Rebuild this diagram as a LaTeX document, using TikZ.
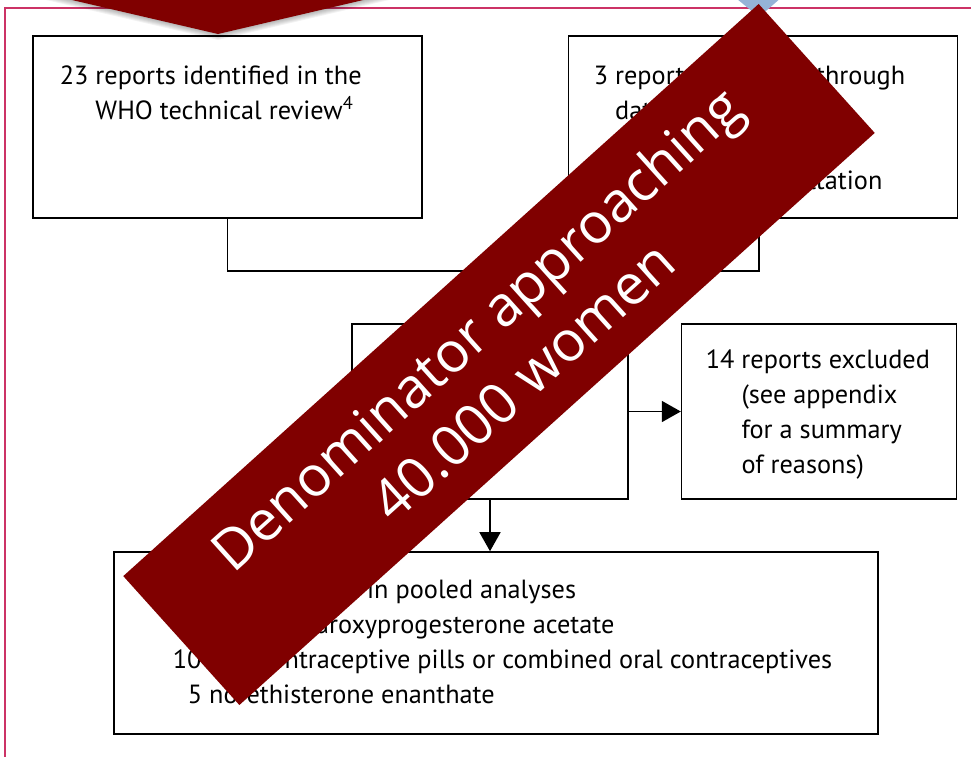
\documentclass[tikz,border=0pt]{standalone}
\usepackage{fontspec}
\setmainfont{PT Sans}
\newfontfamily\bannerfont{Open Sans}
\usetikzlibrary{arrows.meta,positioning}

\definecolor{bannerred}{RGB}{128,0,0}
\definecolor{framepink}{RGB}{204,51,102}
\definecolor{tipblue}{RGB}{149,179,215}

\begin{document}
\begin{tikzpicture}[
    x = 1pt, y = -1pt, % pixel units, y runs down
    > = {Triangle[length=19pt,width=21pt]}, % arrow head style
    line width = 1.6pt, % line style
    node distance = 52pt % distance between boxes
    ]

    \tikzset{
    report/.style = {draw = black, fill = white, inner sep = 0pt},
    reporttext/.style = {anchor = base west, inner sep = 0pt, align = left,
        font = \fontsize{26.3}{35}\selectfont}, % anchored at the last line
    banner/.style = {fill = bannerred, text = white, inner sep = 0pt,
        align = center, font = \bannerfont\fontsize{56}{70}\selectfont}
    }
    \useasboundingbox (0,0) rectangle (971,756);
    \clip (0,0) rectangle (971,756);

    % frame
    \draw[framepink, line width = 1.2pt] (5,800) |- (1000,8);

    % boxes
    \node[report, minimum width = 389pt, minimum height = 182pt] (who) at (227.5,127) {};
    \node[report, minimum width = 389pt, minimum height = 182pt, right = 145pt of who] (search) {};
    \node[report, minimum width = 276pt, minimum height = 175pt] (screen) at (490,411.5) {};
    \node[report, minimum width = 275pt, minimum height = 175pt, right = of screen] (excluded) {};
    \node[report, minimum width = 764pt, minimum height = 182pt] (pooled) at (496,643) {};

    \node[reporttext] (whotext) at (59,119)
        {23 reports identified in the\\\hphantom{23 }WHO technical review\textsuperscript{4}};
    \node[reporttext] (searchtext) at (593,189)
        {3 reports identified through\\\hphantom{3 }database searches,\\\hphantom{3 }reference lists,\\\hphantom{3 }and expert consultation};
    \node[reporttext] (excludedtext) at (705,473)
        {14 reports excluded\\\hphantom{14 }(see appendix\\\hphantom{14 }for a summary\\\hphantom{14 }of reasons)};
    \node[reporttext] (pooledtext) at (140,703)
        {12 studies included in pooled analyses\\
        \hspace*{32pt}12 depot medroxyprogesterone acetate\\
        \hspace*{32pt}10 oral contraceptive pills or combined oral contraceptives\\
        \hspace*{47pt}5 norethisterone enanthate};

    % connectors
    \draw (who.south) -- ++(0,52) coordinate (join) -| ([xshift=-4pt]search.south);
    \draw[->] (join -| screen.north) -- (screen.north);
    \draw[->] (screen.east) -- (excluded.west);
    \draw[->] (screen.south) -- (screen.south |- pooled.north);

    % shapes behind the overlay
    \foreach \s in {1,...,6}
        \fill[black, opacity = 0.05, shift = {(0,\s)}] (29,-10) -- (218,34) -- (406,-10) -- cycle;
    \fill[bannerred] (29,-10) -- (218,34) -- (406,-10) -- cycle;
    \fill[tipblue] (726,-10) -- (759,17) -- (790,-10) -- cycle;

    % overlay
    \node[banner, minimum width = 855pt, minimum height = 173.5pt, rotate = 42] (denominator)
        at (499,354.5) {Denominator approaching\\40.000 women};
\end{tikzpicture}
\end{document}
